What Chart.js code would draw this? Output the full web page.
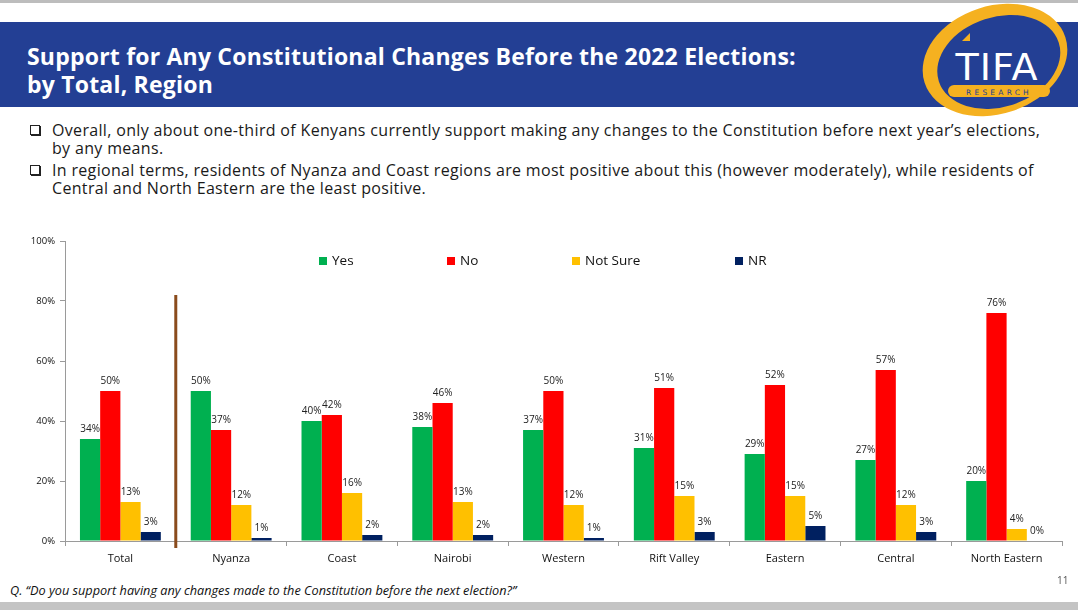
<!DOCTYPE html>
<html>
<head>
<meta charset="utf-8">
<script src="https://cdn.jsdelivr.net/npm/chart.js@4/dist/chart.umd.min.js"></script>
<style>
  html, body { margin: 0; padding: 0; background: #fff; }
  body { width: 1078px; height: 615px; position: relative; overflow: hidden; font-family: "Open Sans", sans-serif; }
  .topline { position: absolute; left: 0; top: 0; width: 1078px; height: 3px; background: #bdbdbd; }
  .band { position: absolute; left: 0; top: 22px; width: 1078px; height: 85px; background: #233f94; }
  .title { position: absolute; left: 27px; top: 42px; color: #fff; font-weight: 700; font-size: 23px; line-height: 28px; letter-spacing: 0.2px; }
  .logo { position: absolute; left: 915px; top: 0; }
  .bullets { position: absolute; left: 30px; top: 121px; width: 1046px; color: #1a1a1a; font-size: 16px; }
  .bullet { position: relative; padding-left: 22px; line-height: 18px; margin-bottom: 4px; letter-spacing: 0.33px; }
  .bullet .box { position: absolute; left: 0; top: 4px; width: 8px; height: 8px; border: 1px solid #222; box-shadow: 1px 1px 0 #222; }
  .chartwrap { position: absolute; left: 0; top: 230px; width: 1075px; height: 345px; }
  .legend { position: absolute; top: 251px; left: 0; width: 1078px; height: 18px; font-family: "Open Sans", sans-serif; font-size: 13.5px; color: #111; }
  .legend span.item { position: absolute; top: 0; white-space: nowrap; }
  .legend i { display: inline-block; width: 8px; height: 8px; margin-right: 5px; vertical-align: 0px; }
  .note { position: absolute; left: 10px; top: 581px; font-family: "Liberation Sans Narrow", "Open Sans", sans-serif; font-style: italic; font-size: 12.7px; color: #111; }
  .pagenum { position: absolute; left: 1057px; top: 573px; font-family: "Open Sans", sans-serif; font-size: 10px; color: #555; }
  .bottombar { position: absolute; left: 0; top: 602px; width: 1078px; height: 8px; background: #c4c4c4; }
</style>
</head>
<body>
<div class="topline"></div>
<div class="band"></div>
<div class="title">Support for Any Constitutional Changes Before the 2022 Elections:<br>by Total, Region</div>

<svg class="logo" width="163" height="122" viewBox="0 0 163 122">
  <g transform="rotate(-18 80 60)">
    <ellipse cx="80" cy="60" rx="74" ry="54" fill="#f5b120"/>
    <ellipse cx="83" cy="63" rx="63" ry="45" fill="#233f94"/>
  </g>
  <text x="82" y="80" text-anchor="middle" fill="#fff" font-family="DejaVu Sans" font-size="38" font-weight="400" letter-spacing="1">TIFA</text>
  <path d="M47 41 L55 33 L55 41 Z" fill="#f5b120"/>
  <rect x="33" y="85" width="102" height="12" rx="6" fill="#f5b120"/>
  <text x="84" y="94.5" text-anchor="middle" fill="#233f94" font-family="DejaVu Sans" font-size="7.5" letter-spacing="3.2">RESEARCH</text>
</svg>

<div class="bullets">
  <div class="bullet"><span class="box"></span>Overall, only about one-third of Kenyans currently support making any changes to the Constitution before next year’s elections,<br>by any means.</div>
  <div class="bullet"><span class="box"></span>In regional terms, residents of Nyanza and Coast regions are most positive about this (however moderately), while residents of<br>Central and North Eastern are the least positive.</div>
</div>

<div class="chartwrap"><canvas id="regionChart"></canvas></div>
<div class="legend" id="legend"></div>

<div class="note">Q. “Do you support having any changes made to the Constitution before the next election?”</div>
<div class="pagenum">11</div>
<div class="bottombar"></div>

<script>
// data
const categories = ['Total', 'Nyanza', 'Coast', 'Nairobi', 'Western', 'Rift Valley', 'Eastern', 'Central', 'North Eastern'];
const seriesNames = ['Yes', 'No', 'Not Sure', 'NR'];
const yesValues = [34, 50, 40, 38, 37, 31, 29, 27, 20];
const noValues = [50, 37, 42, 46, 50, 51, 52, 57, 76];
const notSureValues = [13, 12, 16, 13, 12, 15, 15, 12, 4];
const nrValues = [3, 1, 2, 2, 1, 3, 5, 3, 0];
const yTicks = [0, 20, 40, 60, 80, 100];

const seriesColors = ['#00b050', '#ff0000', '#ffc000', '#002060'];
const legendLeft = [319, 447, 572, 735];

// legend in html, on top of the plot like in the slide
const legendEl = document.getElementById('legend');
seriesNames.forEach((name, i) => {
  const item = document.createElement('span');
  item.className = 'item';
  item.style.left = legendLeft[i] + 'px';
  item.innerHTML = '<i style="background:' + seriesColors[i] + '"></i>' + name;
  legendEl.appendChild(item);
});

// value labels above the bars
const barLabels = {
  id: 'barLabels',
  afterDatasetsDraw(chart) {
    const ctx = chart.ctx;
    ctx.save();
    ctx.font = '10px "Open Sans", sans-serif';
    ctx.fillStyle = '#222';
    ctx.textAlign = 'center';
    ctx.textBaseline = 'bottom';
    chart.data.datasets.forEach((ds, di) => {
      chart.getDatasetMeta(di).data.forEach((bar, i) => {
        ctx.fillText(ds.data[i] + '%', bar.x, bar.y - 5);
      });
    });
    ctx.restore();
  }
};

// brown divider between Total and the regions
const divider = {
  id: 'divider',
  afterDraw(chart) {
    const x = chart.scales.x;
    const y = chart.scales.y;
    const px = (x.getPixelForTick(0) + x.getPixelForTick(1)) / 2;
    const ctx = chart.ctx;
    ctx.save();
    ctx.strokeStyle = '#8a4b1c';
    ctx.lineWidth = 3;
    ctx.beginPath();
    ctx.moveTo(px, y.getPixelForValue(82));
    ctx.lineTo(px, y.getPixelForValue(0) + 7);
    ctx.stroke();
    ctx.restore();
  }
};

function createRegionChart() {
  const ctx = document.getElementById('regionChart').getContext('2d');
  const valueLists = [yesValues, noValues, notSureValues, nrValues];

  return new Chart(ctx, {
    type: 'bar',
    data: {
      labels: categories,
      datasets: seriesNames.map((name, i) => ({
        label: name,
        data: valueLists[i],
        backgroundColor: seriesColors[i],
        barPercentage: 1,
        categoryPercentage: 0.73
      }))
    },
    options: {
      responsive: true,
      maintainAspectRatio: false,
      animation: false,
      layout: { padding: { left: 0, right: 13, top: 11, bottom: 0 } },
      scales: {
        x: {
          grid: { display: true, drawOnChartArea: false, offset: true, tickLength: 5, color: '#9a9a9a' },
          border: { color: '#9a9a9a' },
          ticks: { color: '#111', padding: 6, font: { family: '"Open Sans", sans-serif', size: 11 } },
          afterFit: s => { s.height = 34; }
        },
        y: {
          min: 0,
          max: 100,
          afterBuildTicks: s => { s.ticks = yTicks.map(v => ({ value: v })); },
          grid: { display: true, drawOnChartArea: false, tickLength: 5, color: '#9a9a9a' },
          border: { color: '#9a9a9a' },
          ticks: {
            color: '#111',
            padding: 5,
            font: { family: '"Open Sans", sans-serif', size: 9.5 },
            callback: function (value) {
              return value + '%';
            }
          },
          afterFit: s => { s.width = 65; }
        }
      },
      plugins: {
        legend: { display: false },
        tooltip: { enabled: false }
      }
    },
    plugins: [barLabels, divider]
  });
}

createRegionChart();
</script>
</body>
</html>
